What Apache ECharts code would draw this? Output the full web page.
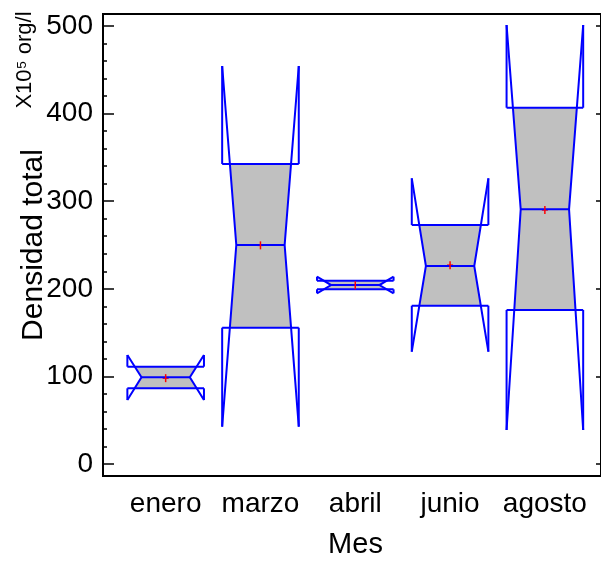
<!DOCTYPE html>
<html>
<head>
<meta charset="utf-8">
<script src="https://cdn.jsdelivr.net/npm/echarts@6/dist/echarts.min.js"></script>
<style>
  html, body { margin: 0; padding: 0; background: #fff; }
  #chart { width: 601px; height: 563px; }
</style>
</head>
<body>
<div id="chart"></div>
<script>
// ---- data ----
const categories = ['enero', 'marzo', 'abril', 'junio', 'agosto'];
const notchLow  = [73, 42.6, 194.9, 128.2, 38.8];
const q1        = [86.4, 155.6, 199.4, 180.7, 175.8];
const median    = [99, 250, 204.3, 226, 290.7];
const q3        = [111.1, 342.5, 209.2, 272.8, 406.7];
const notchHigh = [124.4, 454.3, 213.8, 326.1, 501.1];
const means     = [98, 249.6, 204, 227, 290];
const majorTicks = [0, 100, 200, 300, 400, 500];
const minorTicks = [20, 40, 60, 80, 120, 140, 160, 180, 220, 240, 260, 280,
                    320, 340, 360, 380, 420, 440, 460, 480];

const FONT = '"Liberation Sans", Arial, sans-serif';
const BLUE = '#0000ff';
const BOX_HALF = 0.404;   // half box width in category units
const MED_HALF = 0.255;   // half width at the median (notch waist)

const seriesData = categories.map((c, i) =>
  [i + 1, notchLow[i], q1[i], median[i], q3[i], notchHigh[i], means[i]]);

function renderItem(params, api) {
  const xv = api.value(0);
  const nl = api.value(1), lo = api.value(2), md = api.value(3),
        hi = api.value(4), nh = api.value(5), mn = api.value(6);
  const cx = api.coord([xv, md])[0];
  const yMd = api.coord([xv, md])[1];
  const yLo = api.coord([xv, lo])[1];
  const yHi = api.coord([xv, hi])[1];
  const yNL = api.coord([xv, nl])[1];
  const yNH = api.coord([xv, nh])[1];
  const yMn = api.coord([xv, mn])[1];
  const W = api.size([BOX_HALF, 0])[0];
  const m = api.size([MED_HALF, 0])[0];
  function notchOff(yy, yEnd) {
    const t = Math.min(1, Math.abs((yMd - yy) / (yMd - yEnd)));
    return m + (W - m) * t;
  }
  const o3 = notchOff(yHi, yNH);
  const o1 = notchOff(yLo, yNL);
  const ls = { stroke: BLUE, lineWidth: 2, fill: null };
  const line = (x1, y1, x2, y2, style) => ({
    type: 'line', shape: { x1, y1, x2, y2 }, style: style || ls
  });
  return {
    type: 'group',
    children: [
      { type: 'polygon',
        shape: { points: [[cx - o3, yHi], [cx - m, yMd], [cx - o1, yLo],
                          [cx + o1, yLo], [cx + m, yMd], [cx + o3, yHi]] },
        style: { fill: '#c0c0c0', stroke: null } },
      line(cx - 3, yMn, cx + 3, yMn, { stroke: '#ff0000', lineWidth: 1.5 }),
      { type: 'polyline', shape: { points: [[cx - W, yNH], [cx - m, yMd], [cx - W, yNL]] }, style: ls },
      { type: 'polyline', shape: { points: [[cx + W, yNH], [cx + m, yMd], [cx + W, yNL]] }, style: ls },
      line(cx - W, yHi, cx + W, yHi),
      line(cx - W, yLo, cx + W, yLo),
      line(cx - W, yNH, cx - W, yHi),
      line(cx + W, yNH, cx + W, yHi),
      line(cx - W, yLo, cx - W, yNL),
      line(cx + W, yLo, cx + W, yNL),
      line(cx - m, yMd, cx + m, yMd),
      line(cx, yMn - 4, cx, yMn + 4, { stroke: '#ff0000', lineWidth: 1.5 })
    ]
  };
}

const chart = echarts.init(document.getElementById('chart'), null, { renderer: 'canvas' });
const yRange = { min: -13.7, max: 513.7 };
chart.setOption({
  animation: false,
  backgroundColor: '#ffffff',
  grid: { left: 103, top: 14, width: 499, height: 462, show: true,
          borderColor: '#000', borderWidth: 2, backgroundColor: 'transparent' },
  xAxis: {
    type: 'value', min: 0.339, max: 5.592,
    axisLine: { show: false }, axisTick: { show: false }, splitLine: { show: false },
    axisLabel: {
      customValues: [1, 2, 3, 4, 5],
      formatter: v => categories[Math.round(v) - 1] || '',
      fontFamily: FONT, fontSize: 28, color: '#000', margin: 14
    }
  },
  yAxis: [
    { type: 'value', position: 'left', ...yRange,
      axisLine: { show: false }, splitLine: { show: false },
      axisTick: { show: true, inside: true, length: 11, customValues: majorTicks,
                  lineStyle: { color: '#000', width: 1.5 } },
      axisLabel: { customValues: majorTicks, fontFamily: FONT, fontSize: 28,
                   color: '#000', margin: 10 } },
    { type: 'value', position: 'left', ...yRange,
      axisLine: { show: false }, splitLine: { show: false },
      axisTick: { show: true, inside: true, length: 4, customValues: minorTicks,
                  lineStyle: { color: '#000', width: 1.5 } },
      axisLabel: { show: false } },
    { type: 'value', position: 'right', ...yRange,
      axisLine: { show: false }, splitLine: { show: false },
      axisTick: { show: true, inside: true, length: 5, customValues: majorTicks,
                  lineStyle: { color: '#000', width: 1.5 } },
      axisLabel: { show: false } }
  ],
  graphic: [
    { type: 'text', x: 355.5, y: 545, style: { text: 'Mes', font: '29px ' + FONT,
      fill: '#000', textAlign: 'center', textVerticalAlign: 'middle' } },
    { type: 'text', x: 34, y: 245, rotation: Math.PI / 2,
      style: { text: 'Densidad total', font: '30px ' + FONT, fill: '#000',
               textAlign: 'center', textVerticalAlign: 'middle' } },
    { type: 'text', x: 24.5, y: 60, rotation: Math.PI / 2,
      style: { text: 'X10\u2075 org/l', font: '22px ' + FONT, fill: '#000',
               textAlign: 'center', textVerticalAlign: 'middle' } }
  ],
  series: [{
    type: 'custom', renderItem, data: seriesData,
    encode: { x: 0, y: [1, 2, 3, 4, 5, 6] }, clip: false, z: 3
  }]
});
</script>
</body>
</html>
